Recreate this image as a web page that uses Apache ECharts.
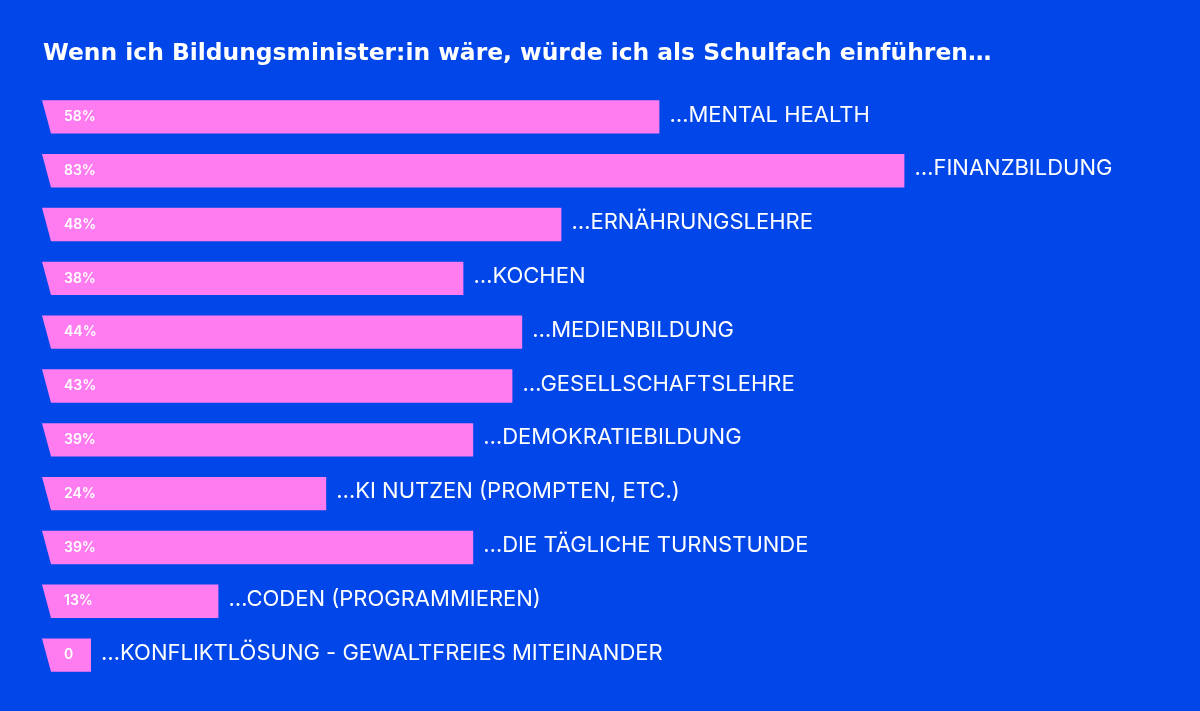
<!DOCTYPE html>
<html><head><meta charset="utf-8">
<script src="https://cdn.jsdelivr.net/npm/echarts@6/dist/echarts.min.js"></script>
<style>html,body{margin:0;padding:0;background:#0046E8;}#c{width:1200px;height:711px;}</style>
</head><body><div id="c"></div>
<script>
const title = 'Wenn ich Bildungsminister:in wäre, würde ich als Schulfach einführen…';
const categories = ['…MENTAL HEALTH','…FINANZBILDUNG','…ERNÄHRUNGSLEHRE','…KOCHEN','…MEDIENBILDUNG','…GESELLSCHAFTSLEHRE','…DEMOKRATIEBILDUNG','…KI NUTZEN (PROMPTEN, ETC.)','…DIE TÄGLICHE TURNSTUNDE','…CODEN (PROGRAMMIEREN)','…KONFLIKTLÖSUNG - GEWALTFREIES MITEINANDER'];
const values = [58,83,48,38,44,43,39,24,39,13,0];
const valueLabels = ['58%','83%','48%','38%','44%','43%','39%','24%','39%','13%','0'];

const AXIS_MIN = -5;
const chart = echarts.init(document.getElementById('c'));
chart.setOption({
  backgroundColor: '#0046E8',
  animation: false,
  title: {text: title, left: 38, top: 37, textStyle: {color: '#fff', fontFamily: 'DejaVu Sans', fontWeight: 'bold', fontSize: 23.4}},
  grid: {left: 42, right: 129, top: 90, bottom: 29},
  xAxis: {type: 'value', min: AXIS_MIN, max: 100, show: false},
  yAxis: {type: 'category', data: categories, inverse: true, show: false},
  series: [{
    type: 'custom',
    data: values.map((v, i) => [v, i]),
    encode: {x: 0, y: 1},
    renderItem: function (params, api) {
      const v = api.value(0), i = api.value(1);
      const start = api.coord([AXIS_MIN, i]);
      const end = api.coord([v, i]);
      const band = api.size([0, 1])[1];
      const h = band * 0.62;
      const top = start[1] - h / 2, bot = start[1] + h / 2;
      const slant = 9;
      return {
        type: 'group',
        children: [
          {type: 'polygon', shape: {points: [[start[0], top], [end[0], top], [end[0], bot], [start[0] + slant, bot]]}, style: {fill: '#FF7CF0'}},
          {type: 'text', style: {text: valueLabels[i], x: start[0] + 22, y: start[1], verticalAlign: 'middle', align: 'left', fill: '#fff', fontFamily: 'Inter', fontWeight: 600, fontSize: 14}},
          {type: 'text', style: {text: categories[i], x: end[0] + 10, y: start[1] - 2, verticalAlign: 'middle', align: 'left', fill: '#fff', fontFamily: 'Inter', fontWeight: 400, fontSize: 22}}
        ]
      };
    }
  }]
});
</script></body></html>
